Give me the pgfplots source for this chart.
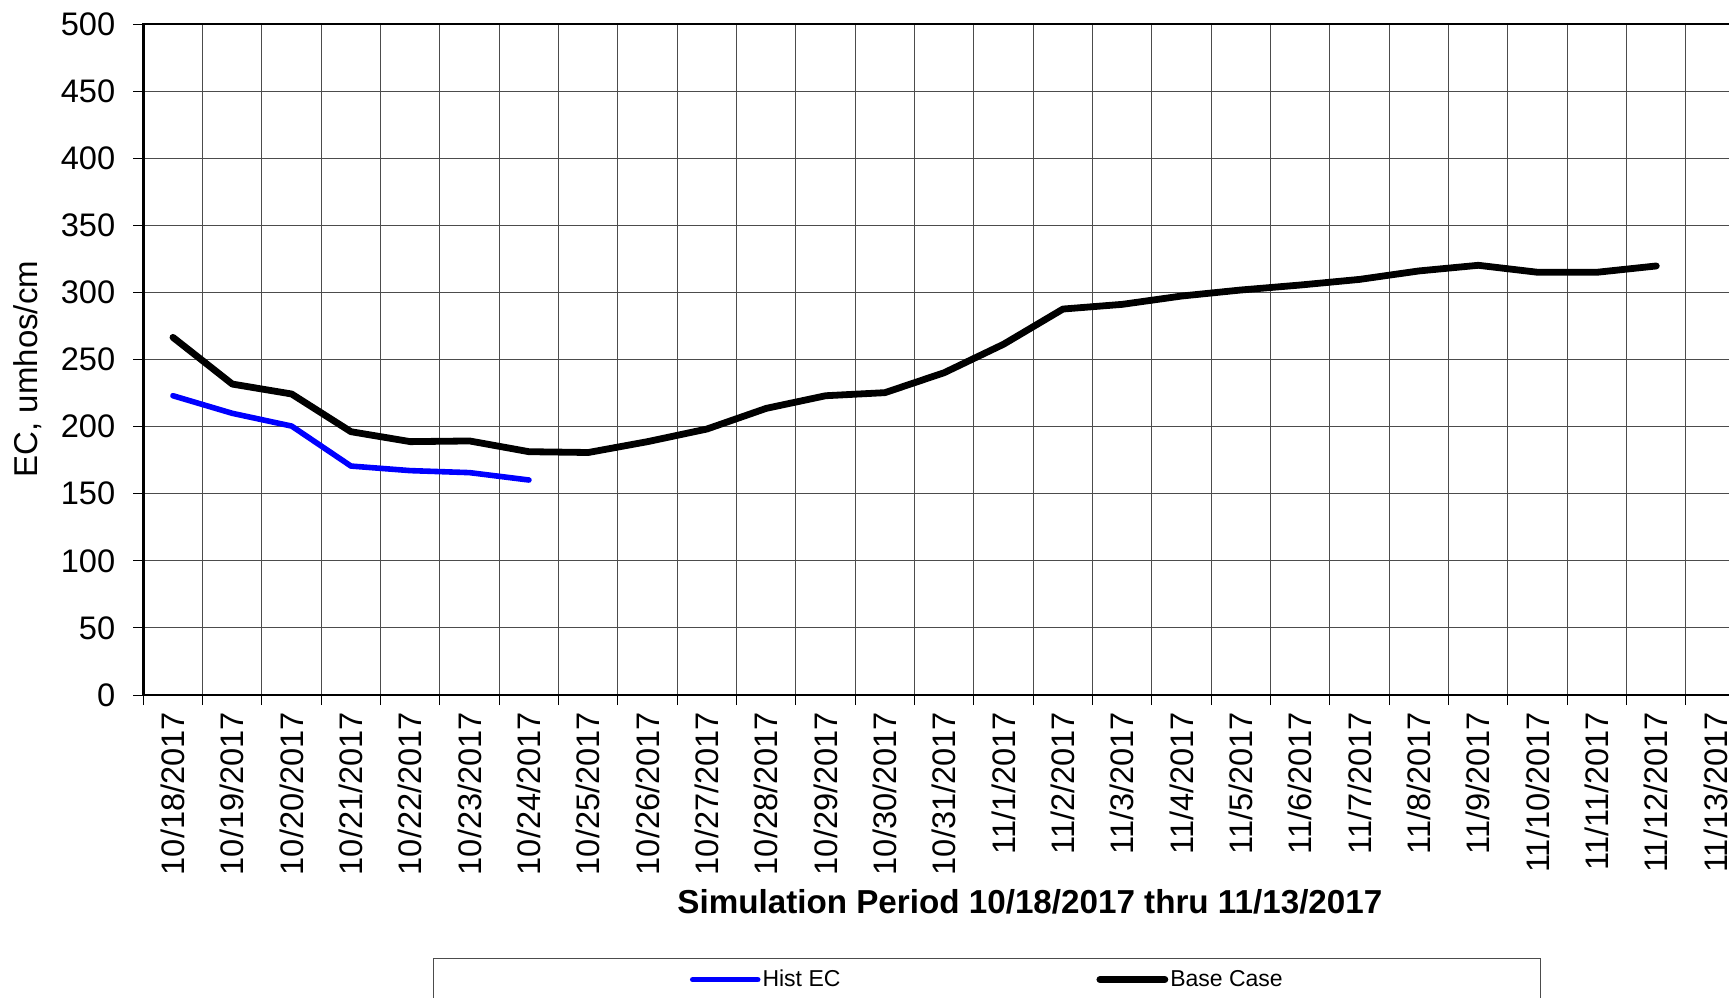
\documentclass[border=0pt]{standalone}
\usepackage{fontspec}
\setmainfont{Liberation Sans}
\usepackage{pgfplots}
\pgfplotsset{compat=1.18}
\begin{document}
\begin{tikzpicture}
\begin{axis}[
  at={(71.65pt,151pt)}, anchor=south west,
  scale only axis, width=801pt, height=335.5pt,
  xmin=-0.5, xmax=26.5, ymin=0, ymax=500,
  ytick={0,50,...,500},
  xtick={0,...,26},
  xticklabels={10/18/2017,10/19/2017,10/20/2017,10/21/2017,10/22/2017,10/23/2017,10/24/2017,10/25/2017,10/26/2017,10/27/2017,10/28/2017,10/29/2017,10/30/2017,10/31/2017,11/1/2017,11/2/2017,11/3/2017,11/4/2017,11/5/2017,11/6/2017,11/7/2017,11/8/2017,11/9/2017,11/10/2017,11/11/2017,11/12/2017,11/13/2017},
  minor xtick={-0.5,0.5,1.5,2.5,3.5,4.5,5.5,6.5,7.5,8.5,9.5,10.5,11.5,12.5,13.5,14.5,15.5,16.5,17.5,18.5,19.5,20.5,21.5,22.5,23.5,24.5,25.5,26.5},
  major x tick style={draw=none},
  tick pos=left, tick align=outside,
  major tick length=5pt, minor tick length=5pt,
  xminorgrids=true, ymajorgrids=true, xmajorgrids=false,
  grid style={black!70, line width=0.5pt},
  minor grid style={black!70, line width=0.5pt},
  axis line style={line width=1.3pt},
  tick style={black, line width=0.5pt},
  /pgf/number format/assume math mode=true,
  ticklabel style={font=\fontsize{16.3}{19}\selectfont},
  yticklabel style={xshift=-5.5pt},
  xticklabel style={rotate=90, anchor=east},
  xlabel={Simulation Period 10/18/2017 thru 11/13/2017},
  xlabel style={at={(axis description cs:0.5534,-0.3085)}, anchor=center, font=\fontsize{16.6}{19}\selectfont\bfseries},
  ylabel={EC, umhos/cm},
  ylabel style={at={(axis description cs:-0.0721,0.4858)}, anchor=center, font=\fontsize{16.5}{19}\selectfont},
  legend columns=2,
  legend image code/.code={\draw[#1] (0pt,0pt) -- (32.5pt,0pt);},
  legend style={at={(axis description cs:0.1811,-0.392)}, anchor=north west,
    draw=black!70, line width=0.5pt, inner xsep=128pt, inner ysep=4.6pt,
    font=\fontsize{11.5}{13}\selectfont,
    nodes={inner sep=1pt},
    /tikz/every even column/.append style={column sep=127pt}},
  legend cell align=left,
]
\addplot[blue, line width=2.8pt, line cap=round, line join=round] coordinates {
(0,223.0) (1,209.9) (2,200.4) (3,170.6) (4,167.2) (5,165.7) (6,160.2)
};
\addlegendentry{Hist EC}
\addplot[black, line width=3.4pt, line cap=round, line join=round] coordinates {
(0,266.5) (1,231.7) (2,224.3) (3,196.2) (4,188.8) (5,189.3) (6,181.3) (7,180.7)
(8,188.8) (9,198.2) (10,213.6) (11,223.0) (12,225.3) (13,240.2) (14,261.4)
(15,287.6) (16,291.1) (17,297.3) (18,301.8) (19,305.5) (20,309.7) (21,316.0)
(22,320.2) (23,315.0) (24,315.0) (25,319.7)
};
\addlegendentry{Base Case}
\end{axis}
\pgfresetboundingbox
\useasboundingbox (0pt,0pt) rectangle (864.5pt,498.5pt);
\end{tikzpicture}
\end{document}
